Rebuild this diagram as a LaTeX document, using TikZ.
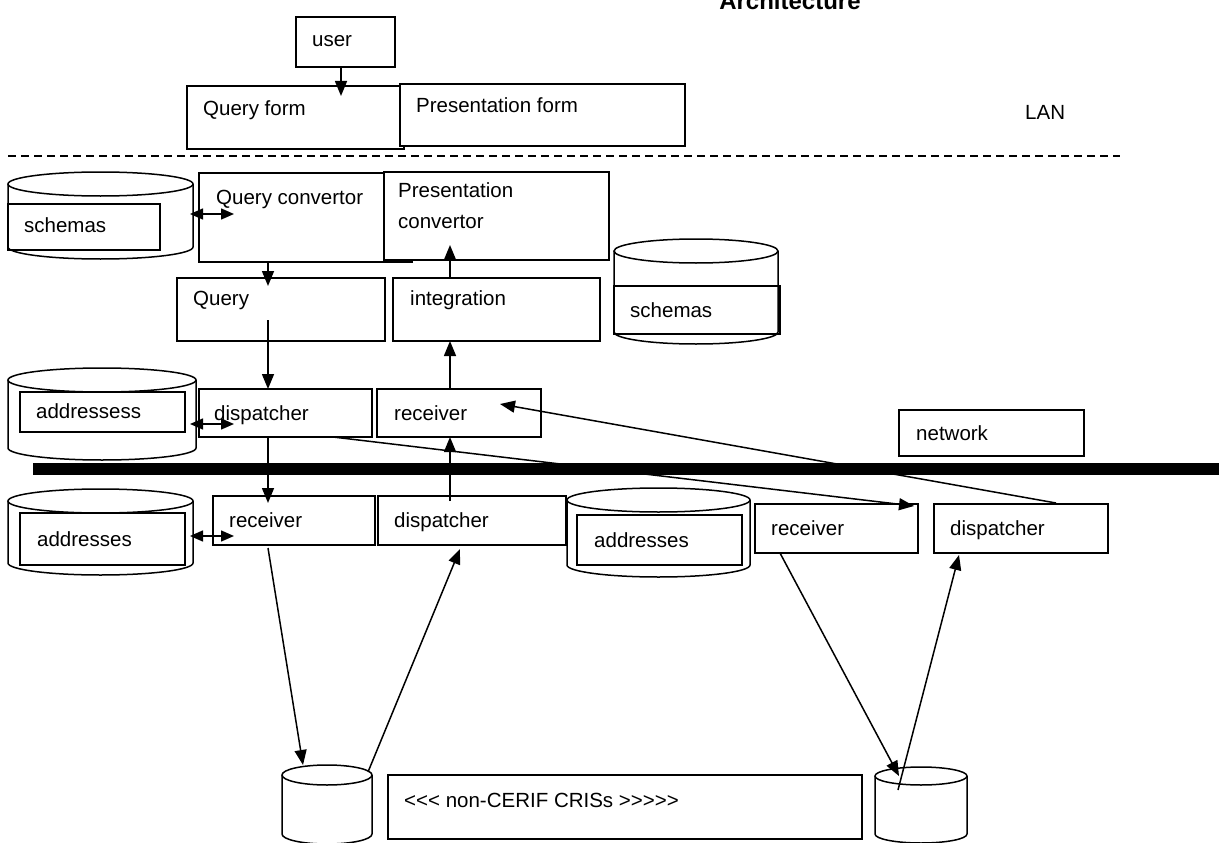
\documentclass[tikz,border=0pt]{standalone}
\usepackage{fontspec}
\setmainfont{Liberation Sans}
\usetikzlibrary{arrows.meta}

% rectangle node given by its pixel corners: name, x1, x2, y1, y2
\newcommand{\boxnode}[6][]{%
  \pgfmathsetmacro\bxw{#4-#3}\pgfmathsetmacro\bxh{#6-#5}%
  \node[box,#1,anchor=north west,minimum width=\bxw pt,minimum height=\bxh pt] (#2) at (#3,#5) {};}

% database cylinder: name, left x, right x, top centre y, bottom centre y, ellipse half height
\newcommand{\dbcyl}[6]{%
  \pgfmathsetmacro\cylcx{(#2+#3)/2}\pgfmathsetmacro\cylrx{(#3-#2)/2}%
  \coordinate (#1) at (\cylcx,#4);
  \draw[line] (\cylcx,#4) ellipse [x radius=\cylrx pt, y radius=#6 pt];
  \draw[line] (#2,#4) -- (#2,#5) arc [start angle=180, end angle=360, x radius=\cylrx pt, y radius=#6 pt] -- (#3,#4);}

\begin{document}
\begin{tikzpicture}[x=1pt,y=-1pt,
  line/.style={line width=1.5pt,line join=miter},
  box/.style={line, draw, rectangle, inner sep=0pt, outer sep=0pt},
  wbox/.style={box, fill=white},
  lbl/.style={anchor=base west, inner sep=0pt, font=\fontsize{20.5}{24}\selectfont},
  arr/.style={line, -{Triangle[length=15pt,width=12pt]}},
  dbl/.style={line, {Triangle[length=13pt,width=11pt]}-{Triangle[length=13pt,width=11pt]}}]
\useasboundingbox (0,0) rectangle (1219,843);

% title
\node[anchor=base, inner sep=0pt, font=\fontsize{24}{28}\selectfont\bfseries] (title) at (790,10) {Architecture};

% user and forms (LAN side)
\boxnode{user}{296}{395}{17}{67}
\node[lbl] (user-t) at (312,47) {user};
\boxnode{qform}{187}{404}{86}{149}
\boxnode[wbox]{pform}{400}{685}{84}{146}
\node[lbl] (qform-t) at (203,115) {Query form};
\node[lbl] (pform-t) at (416,113) {Presentation form};
\node[lbl] (lan) at (1025,119) {LAN};
\draw[line, dash pattern=on 8pt off 5pt] (8,156) coordinate (lanL) -- (1120,156) coordinate (lanR);

% conversion layer
\dbcyl{schL}{8}{193}{184}{247}{12}
\boxnode{schL-r}{8}{160}{204}{250}
\node[lbl] (schL-t) at (24,232) {schemas};
\boxnode{qconv}{199}{412}{173}{262}
\boxnode[wbox]{pconv}{384}{609}{172}{260}
\node[lbl] (qconv-t) at (216,204) {Query convertor};
\node[lbl] (pconv-t) at (398,197) {Presentation};
\node[lbl] (pconv-t2) at (398,228) {convertor};
\boxnode{query}{177}{385}{278}{341}
\node[lbl] (query-t) at (193,305) {Query};
\boxnode{integ}{393}{600}{278}{341}
\node[lbl] (integ-t) at (410,305) {integration};
\dbcyl{schR}{614}{778}{251}{332}{12}
\boxnode{schR-r}{614}{780}{286}{334}
\node[lbl] (schR-t) at (630,317) {schemas};

% local dispatcher / receiver
\dbcyl{addT}{8}{196}{380}{448}{12}
\boxnode{addT-r}{20}{185}{392}{432}
\node[lbl] (addT-t) at (36,418) {addressess};
\boxnode{disp1}{199}{372}{389}{437}
\node[lbl] (disp1-t) at (214,420) {dispatcher};
\boxnode{recv1}{377}{541}{389}{437}
\node[lbl] (recv1-t) at (394,420) {receiver};
\boxnode{net}{899}{1084}{410}{456}
\node[lbl] (net-t) at (916,440) {network};

% network bar
\draw[line width=12pt] (33,469) coordinate (barL) -- (1219,469) coordinate (barR);

% remote dispatchers / receivers
\dbcyl{addL}{8}{193}{501}{563}{12}
\boxnode{addL-r}{20}{185}{513}{565}
\node[lbl] (addL-t) at (37,546) {addresses};
\boxnode{recv2}{213}{375}{496}{545}
\node[lbl] (recv2-t) at (229,527) {receiver};
\boxnode{disp2}{378}{566}{496}{545}
\node[lbl] (disp2-t) at (394,527) {dispatcher};
\dbcyl{addM}{567}{750}{500}{565}{12}
\boxnode{addM-r}{577}{742}{515}{565}
\node[lbl] (addM-t) at (594,547) {addresses};
\boxnode{recv3}{755}{918}{504}{553}
\node[lbl] (recv3-t) at (771,535) {receiver};
\boxnode{disp3}{934}{1108}{504}{553}
\node[lbl] (disp3-t) at (950,535) {dispatcher};

% non-CERIF systems
\dbcyl{crisL}{282}{372}{775}{834}{10}
\boxnode{cris}{388}{862}{775}{839}
\node[lbl] (cris-t) at (404,807) {{<}{<}{<} non-CERIF CRISs {>}{>}{>}{>}{>}};
\dbcyl{crisR}{875}{967}{776}{834}{9}

% connector end points
\coordinate (colL) at (268,0);
\coordinate (colR) at (450,0);
\coordinate (uq) at (341,96);
\coordinate (sq1) at (190,214);  \coordinate (sq2) at (234,214);
\coordinate (qq) at (268,286);
\coordinate (qd) at (268,320);
\coordinate (ip) at (450,245);
\coordinate (ad1) at (190,424);  \coordinate (ad2) at (234,424);
\coordinate (nd) at (1056,503);  \coordinate (nr) at (500,404);
\coordinate (d1a) at (333,437);  \coordinate (r3a) at (914,506);
\coordinate (r2a) at (268,503);
\coordinate (d2a) at (450,501);
\coordinate (al1) at (190,536);  \coordinate (al2) at (234,536);
\coordinate (r2b) at (268,548);  \coordinate (cl1) at (303,765);
\coordinate (cl2) at (368,772);  \coordinate (d2b) at (460,549);
\coordinate (r3b) at (780,553);  \coordinate (cr1) at (899,776);
\coordinate (cr2) at (898,790);  \coordinate (d3b) at (959,555);

% connectors
\draw[arr] (uq |- user.south) -- (uq);
\draw[dbl] (sq1) -- (sq2);
\draw[arr] (qq |- qconv.south) -- (qq);
\draw[arr] (colR |- integ.north) -- (ip);
\draw[arr] (qd) -- (colL |- disp1.north);
\draw[arr] (colR |- recv1.north) -- (colR |- integ.south);
\draw[dbl] (ad1) -- (ad2);
\draw[arr] (nd) -- (nr);
\draw[arr] (d1a) -- (r3a);
\draw[arr] (colL |- disp1.south) -- (r2a);
\draw[arr] (d2a) -- (colR |- recv1.south);
\draw[dbl] (al1) -- (al2);
\draw[arr] (r2b) -- (cl1);
\draw[arr] (cl2) -- (d2b);
\draw[arr] (r3b) -- (cr1);
\draw[arr] (cr2) -- (d3b);
\end{tikzpicture}
\end{document}
